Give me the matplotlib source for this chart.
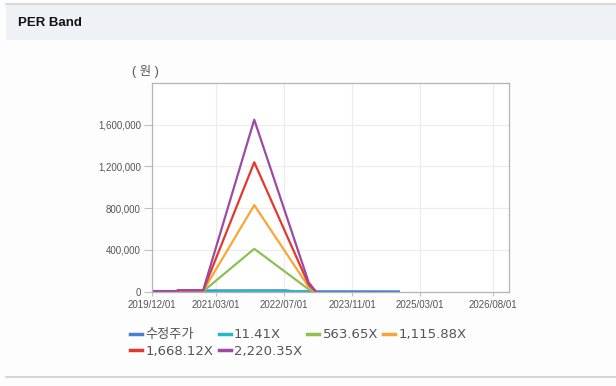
import numpy as np
import pandas as pd
import matplotlib
matplotlib.use("Agg")
import matplotlib.pyplot as plt
import matplotlib.dates as mdates
from matplotlib.patches import Rectangle
from matplotlib.lines import Line2D

plt.rcParams['font.family'] = ['Liberation Sans', 'Noto Sans CJK KR', 'DejaVu Sans']

# PER band values (won) at the break points of the bands
band_dates = ['2019-12-01', '2020-05-31', '2020-06-01', '2020-12-01',
              '2021-12-01', '2022-12-25', '2023-02-15']
band_11 = [30, 30, 80, 80, 8450, 460, 0]
band_563 = [1500, 1500, 3800, 3800, 411000, 22800, 0]
band_1115 = [3000, 3000, 7600, 7600, 830000, 45200, 0]
band_1668 = [4500, 4500, 11300, 11300, 1240000, 67600, 0]
band_2220 = [6000, 6000, 15100, 15100, 1648000, 90000, 0]

# adjusted price
price_dates = ['2020-12-01', '2022-07-15', '2022-09-01', '2024-09-30']
price = [12000, 13000, 4000, 3000]

labels = ['수정주가', '11.41X', '563.65X', '1,115.88X', '1,668.12X', '2,220.35X']
colors = ['#4a7fd0', '#26b7c9', '#8cc152', '#f9a637', '#e03a2f', '#9c4aa4']

xticks = ['2019-12-01', '2021-03-01', '2022-07-01', '2023-11-01',
          '2025-03-01', '2026-08-01']
yticks = [0, 400000, 800000, 1200000, 1600000]

bd = pd.to_datetime(band_dates)
pdts = pd.to_datetime(price_dates)

fig = plt.figure(figsize=(6.16, 3.86), dpi=100)
fig.patch.set_facecolor('#fdfdfd')

# header strip
fig.patches.append(Rectangle((6/616, 1-40/386), 1-6/616, 36/386,
                             transform=fig.transFigure, facecolor='#eef2f7',
                             edgecolor='none', zorder=0))
fig.add_artist(Line2D([6/616, 1], [1-4/386, 1-4/386], color='#d2d2d2', lw=1.2,
                      transform=fig.transFigure))
fig.add_artist(Line2D([6/616, 1], [1-377/386, 1-377/386], color='#cfcfcf', lw=1.2,
                      transform=fig.transFigure))
fig.text(18/616, 1-23/386, 'PER Band', fontsize=9.5, fontweight='bold',
         va='center', ha='left', color='#111111')

ax = fig.add_axes([152/616, 1-291.7/386, 357/616, 208.7/386])
ax.set_facecolor('white')

series = [band_11, band_563, band_1115, band_1668, band_2220]
lines = []
lines += ax.plot(pdts, price, color=colors[0], lw=1.6, label=labels[0])
for s, c, l in zip(series, colors[1:], labels[1:]):
    lines += ax.plot(bd, s, color=c, lw=1.6, label=l)

ax.set_ylim(0, 2000000)
ax.set_yticks(yticks)
ax.yaxis.set_major_formatter(matplotlib.ticker.FuncFormatter(lambda v, p: f'{int(v):,}'))
ax.set_xlim(pd.Timestamp('2019-12-01'), pd.Timestamp('2026-11-26'))
ax.set_xticks(pd.to_datetime(xticks))
ax.xaxis.set_major_formatter(mdates.DateFormatter('%Y/%m/%d'))

ax.grid(True, color='#ececec', lw=0.8)
ax.set_axisbelow(True)
for sp in ax.spines.values():
    sp.set_color('#b5b5b5')
    sp.set_linewidth(0.9)
ax.tick_params(axis='y', length=6, color='#c0c0c0', labelsize=7, labelcolor='#555555', pad=2)
ax.tick_params(axis='x', length=3, color='#c0c0c0', labelsize=7, labelcolor='#555555', pad=3)

fig.text(145/616, 1-72/386, '( 원 )', fontsize=9, color='#555555', ha='center', va='center')

# legend fills by column, so reorder to read row by row
order = [0, 4, 1, 5, 2, 3]
leg = fig.legend([lines[i] for i in order], [labels[i] for i in order],
                 loc='upper left', bbox_to_anchor=(121/616, 1-319/386), ncol=4,
                 frameon=False, handlelength=0.9, handletextpad=0.25,
                 columnspacing=0.4, labelspacing=0.25, borderpad=0.2,
                 labelcolor='#555555',
                 prop={'family': ['DejaVu Sans', 'Noto Sans CJK KR'], 'size': 9.5})
for h in leg.get_lines():
    h.set_linewidth(2.5)

fig.savefig('out.png', dpi=100, facecolor=fig.get_facecolor())
